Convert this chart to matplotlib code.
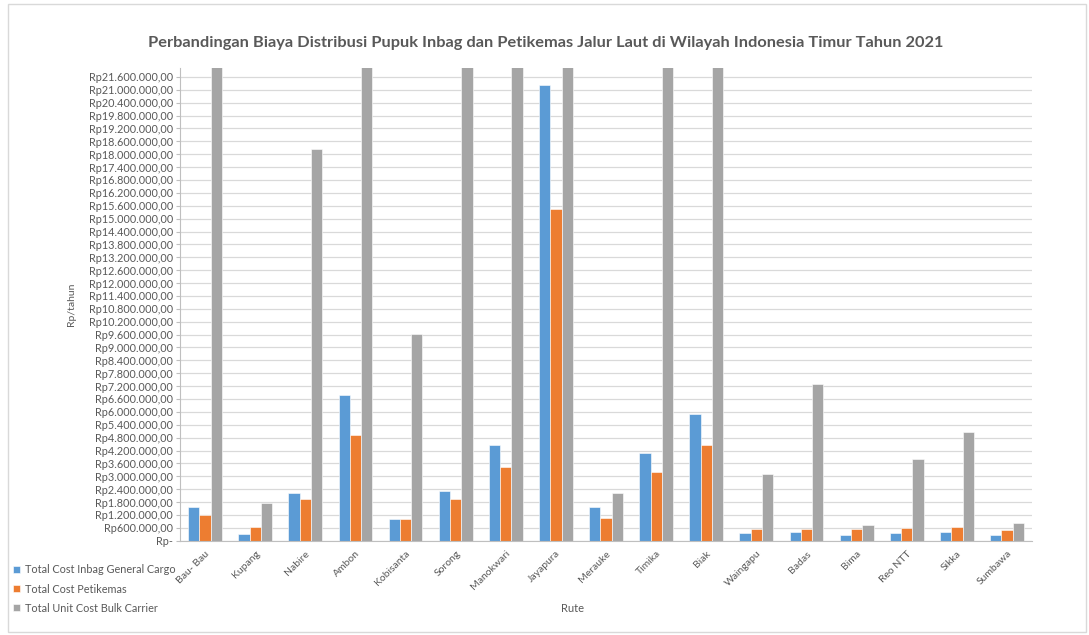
import numpy as np
import matplotlib.pyplot as plt
from matplotlib.ticker import FuncFormatter
from matplotlib.patches import Rectangle

plt.rcParams['font.family'] = ['Lato', 'DejaVu Sans']

rute = ['Bau- Bau', 'Kupang', 'Nabire', 'Ambon', 'Kobisanta', 'Sorong', 'Manokwari',
        'Jayapura', 'Merauke', 'Timika', 'Biak', 'Waingapu', 'Badas', 'Bima',
        'Reo NTT', 'Sikka', 'Sumbawa']

# Rp per tahun
inbag_general_cargo = [1555000, 300000, 2220000, 6800000, 1010000, 2330000, 4450000,
                       21230000, 1570000, 4080000, 5900000, 360000, 400000, 280000,
                       370000, 420000, 250000]
petikemas = [1180000, 620000, 1930000, 4930000, 1010000, 1930000, 3430000,
             15430000, 1060000, 3200000, 4470000, 560000, 540000, 540000,
             590000, 620000, 500000]
bulk_carrier = [24500000, 1750000, 18230000, 26000000, 9620000, 25000000, 27500000,
                30000000, 2210000, 24000000, 25500000, 3100000, 7280000, 720000,
                3790000, 5070000, 810000]

series = ['Total Cost Inbag General Cargo', 'Total Cost Petikemas', 'Total Unit Cost Bulk Carrier']
colors = ['#5B9BD5', '#ED7D31', '#A5A5A5']
text_col = '#595959'

fig = plt.figure(figsize=(10.89, 6.35), dpi=100)
fig.patches.append(Rectangle((0.007, 0.004), 0.99, 0.99, transform=fig.transFigure,
                             fill=False, edgecolor='#D9D9D9', linewidth=1))
ax = fig.add_axes([0.1653, 0.1485, 0.7824, 0.7439])

x = np.arange(len(rute))
w = 0.225
for i, (vals, name) in enumerate(zip([inbag_general_cargo, petikemas, bulk_carrier], series)):
    ax.bar(x + (i - 1) * w, vals, w, color=colors[i], label=name,
           edgecolor='white', linewidth=0.4, zorder=3)

ax.set_xlim(-0.5, len(rute) - 0.5)
ax.set_ylim(0, 22000000)
ax.set_yticks(np.arange(0, 21600001, 600000))


def rupiah(v, pos):
    if v == 0:
        return 'Rp-'
    s = '{:,.2f}'.format(v).replace(',', '#').replace('.', ',').replace('#', '.')
    return 'Rp' + s


ax.yaxis.set_major_formatter(FuncFormatter(rupiah))
ax.grid(axis='y', color='#D9D9D9', linewidth=0.9, zorder=0)
for s in ['top', 'right']:
    ax.spines[s].set_visible(False)
ax.spines['left'].set_color('#BFBFBF')
ax.spines['bottom'].set_color('#BFBFBF')
ax.spines['bottom'].set_zorder(4)

ax.set_xticks(x)
ax.set_xticklabels(rute, rotation=45, ha='right', rotation_mode='anchor',
                   fontsize=7.5, color=text_col)
ax.tick_params(axis='x', length=0, pad=6)
ax.tick_params(axis='y', length=3, color='#BFBFBF', labelsize=7.8,
               labelcolor=text_col, pad=2)

ax.set_ylabel('Rp/tahun', fontsize=7.5, color=text_col)
ax.yaxis.set_label_coords(-0.122, 0.5)
fig.text(0.526, 0.041, 'Rute', fontsize=8, color=text_col, ha='center', va='center')

fig.text(0.501, 0.932, 'Perbandingan Biaya Distribusi Pupuk Inbag dan Petikemas Jalur Laut di Wilayah Indonesia Timur Tahun 2021',
         fontsize=11.8, fontweight='bold', color=text_col, ha='center', va='center')

leg = fig.legend(loc='upper left', bbox_to_anchor=(0.008, 0.118), frameon=False,
                 fontsize=7.8, handlelength=0.6, handleheight=0.6, handletextpad=0.5,
                 labelspacing=0.75, borderaxespad=0)
for t in leg.get_texts():
    t.set_color(text_col)

fig.savefig('out.png', dpi=100)
